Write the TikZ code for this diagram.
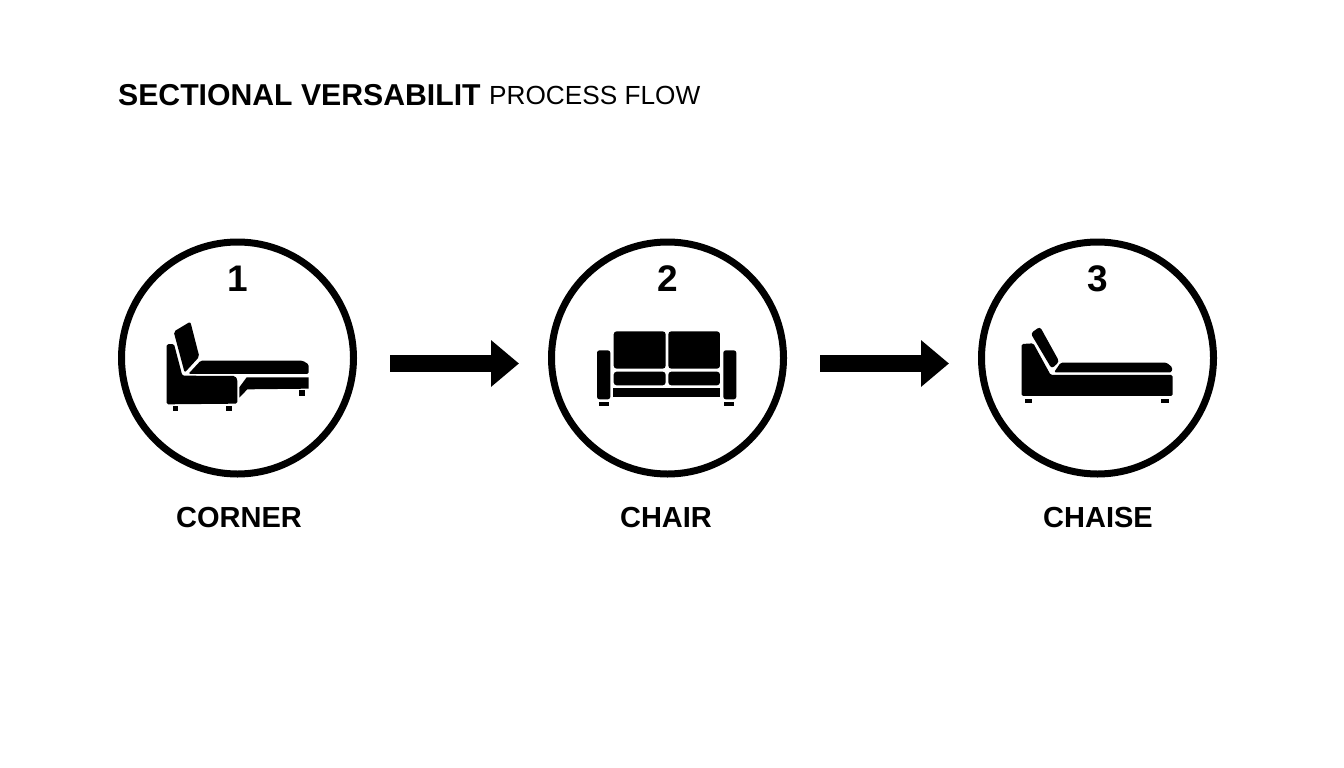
\documentclass[tikz,border=0pt]{standalone}
\usepackage{fontspec}
\setmainfont{Liberation Sans}
\usetikzlibrary{arrows.meta}
\tikzstyle{stage} = [circle, draw=black, line width=7pt, minimum size=232pt, inner sep=0pt]
\tikzstyle{number} = [text=black, font=\fontsize{37}{37}\selectfont\bfseries, inner sep=0pt]
\tikzstyle{caption} = [text=black, font=\fontsize{29}{29}\selectfont\bfseries, inner sep=0pt]
\tikzstyle{heading} = [text=black, anchor=west, inner sep=0pt]
\tikzstyle{flow} = [draw=black, line width=17pt, -{Triangle[length=28pt, width=45pt]}, shorten <=33pt, shorten >=29pt]
\tikzstyle{solid part} = [fill=black, draw=none]
\tikzstyle{icon} = [x=0.3333pt, y=-0.3333pt]
\begin{document}
\begin{tikzpicture}[x=1pt, y=-1pt, node distance=430pt]
\useasboundingbox (0,0) rectangle (1344,768);
\node [heading, font=\fontsize{30.2}{30}\selectfont\bfseries] (title) at (118,95) {SECTIONAL VERSABILIT};
\node [heading, font=\fontsize{26.2}{27}\selectfont] (subtitle) at (489,95) {PROCESS FLOW};

\node [stage] (corner) at (237.5,358) {};
\node [stage, right of=corner] (chair) {};
\node [stage, right of=chair] (chaise) {};

\node [number, above of=corner, node distance=79pt] (one) {1};
\node [number, above of=chair, node distance=79pt] (two) {2};
\node [number, above of=chaise, node distance=79pt] (three) {3};
\node [caption, below of=corner, node distance=160pt, xshift=1.5pt] (cornerlabel) {CORNER};
\node [caption, below of=chair, node distance=160pt, xshift=-1.5pt] (chairlabel) {CHAIR};
\node [caption, below of=chaise, node distance=160pt, xshift=0.5pt] (chaiselabel) {CHAISE};

  \draw [flow] ([yshift=-5.5pt]corner.east) -- ([yshift=-5.5pt]chair.west);
  \draw [flow] ([yshift=-5.5pt]chair.east) -- ([yshift=-5.5pt]chaise.west);

% corner sofa
\begin{scope}[shift={(150,310)}, icon]
  \path [solid part, rounded corners=2pt] (71,65) -- (121,35) -- (148,140) -- (104,188) -- cycle;
  \path [solid part, rounded corners=1.5pt] (50,103) -- (72,102) -- (97,197) -- (255,198) -- (262,208) -- (262,281) -- (50,283) -- cycle;
  \path [solid part, rounded corners=1.5pt] (115,192) -- (152,152) -- (458,152) -- (476,163) -- (476,192) -- cycle;
  \path [solid part] (268,232) -- (290,202) -- (476,202) -- (476,236) -- (292,238) -- (268,263) -- cycle;
  \path [solid part] (68,288) rectangle (85,303);
  \path [solid part] (229,288) rectangle (246,303);
  \path [solid part] (447,240) rectangle (464,257);
\end{scope}

% two seat sofa
\begin{scope}[shift={(585,320)}, icon]
  \path [solid part, rounded corners=3pt] (86,146) -- (86,34) -- (242,34) -- (242,146) -- cycle;
  \path [solid part, rounded corners=3pt] (250,146) -- (250,34) -- (405,34) -- (405,146) -- cycle;
  \path [solid part, rounded corners=3pt] (86,155) rectangle (242,196);
  \path [solid part, rounded corners=3pt] (250,155) rectangle (405,196);
  \path [solid part] (84,205) rectangle (405,231);
  \path [solid part, rounded corners=2.5pt] (36,91) rectangle (76,238);
  \path [solid part, rounded corners=2.5pt] (415,91) rectangle (454,238);
  \path [solid part] (43,245) rectangle (72,257);
  \path [solid part] (418,245) rectangle (447,257);
\end{scope}

% chaise
\begin{scope}[shift={(1010,320)}, icon]
  \path [solid part, rounded corners=1.5pt] (35,228) -- (35,72) -- (70,70) -- (122,165) -- (488,165) -- (488,228) -- cycle;
  \path [solid part, rounded corners=3pt] (62,40) -- (90,20) -- (148,125) -- (125,146) -- cycle;
  \path [solid part, rounded corners=1.5pt] (132,157) -- (152,128) -- (470,128) -- (487,142) -- (485,157) -- cycle;
  \path [solid part] (45,236) rectangle (67,250);
  \path [solid part] (453,236) rectangle (477,250);
\end{scope}
\end{tikzpicture}
\end{document}
